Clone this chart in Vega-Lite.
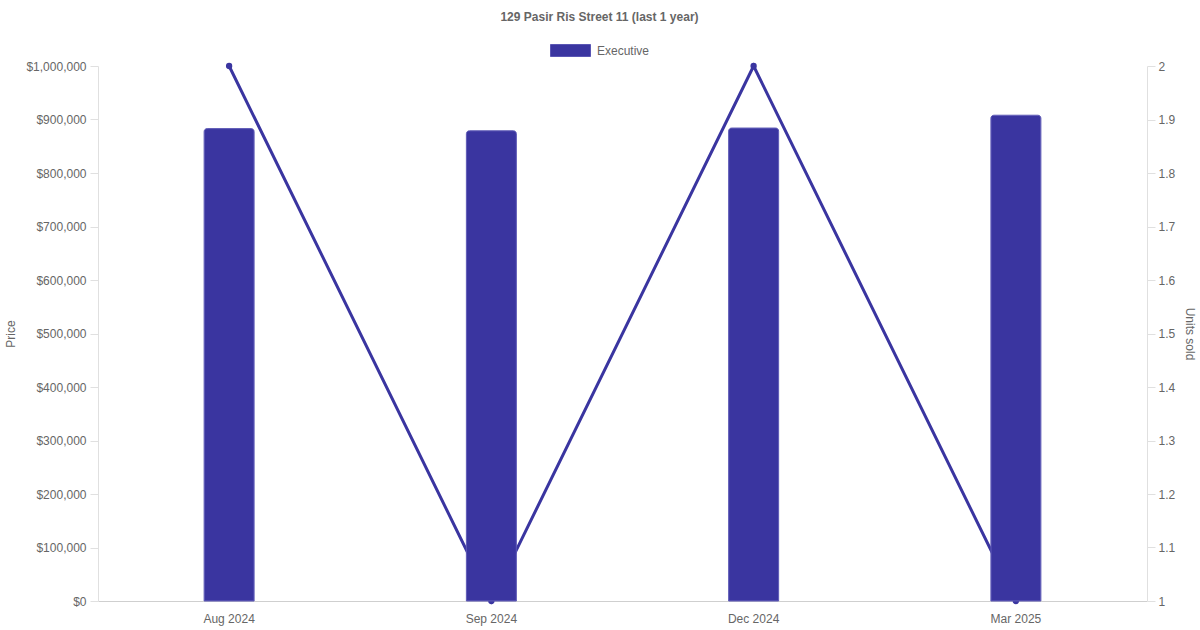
{
  "$schema": "https://vega.github.io/schema/vega-lite/v6.json",
  "width": 1049,
  "height": 535,
  "autosize": {"type": "none"},
  "padding": {"left": 98, "top": 66, "right": 53, "bottom": 29},
  "background": "white",
  "title": {
    "text": "129 Pasir Ris Street 11 (last 1 year)",
    "anchor": "middle",
    "frame": "group",
    "font": "Liberation Sans",
    "fontSize": 12,
    "fontWeight": "bold",
    "color": "#666666",
    "baseline": "middle",
    "offset": 1,
    "dx": -23
  },
  "data": {
    "values": [
      {"month": "Aug 2024", "type": "Executive", "price": 883000, "units": 2},
      {"month": "Sep 2024", "type": "Executive", "price": 879000, "units": 1},
      {"month": "Dec 2024", "type": "Executive", "price": 884000, "units": 2},
      {"month": "Mar 2025", "type": "Executive", "price": 908000, "units": 1}
    ]
  },
  "config": {
    "font": "Liberation Sans",
    "view": {"stroke": null},
    "axis": {
      "labelFont": "Liberation Sans",
      "labelFontSize": 12,
      "labelColor": "#666666",
      "titleFont": "Liberation Sans",
      "titleFontSize": 12,
      "titleFontWeight": "normal",
      "titleColor": "#666666",
      "gridColor": "#e5e5e5",
      "domainColor": "#e0e0e0",
      "tickColor": "#e0e0e0"
    }
  },
  "encoding": {
    "x": {
      "field": "month",
      "type": "ordinal",
      "sort": null,
      "scale": {"paddingInner": 0, "paddingOuter": 0},
      "axis": {
        "title": null,
        "labelAngle": 0,
        "ticks": false,
        "grid": false,
        "labelPadding": 12,
        "domainColor": "#cfcfcf"
      }
    }
  },
  "layer": [
    {
      "mark": {
        "type": "line",
        "color": "#3a35a0",
        "strokeWidth": 3,
        "point": {"filled": true, "size": 40, "color": "#3a35a0"}
      },
      "encoding": {
        "y": {
          "field": "units",
          "type": "quantitative",
          "scale": {"domain": [1, 2], "nice": false, "zero": false},
          "axis": {
            "orient": "right",
            "title": "Units sold",
            "titleAngle": 90,
            "format": "~g",
            "tickCount": 10,
            "grid": false,
            "tickSize": 8,
            "labelPadding": 3,
            "titlePadding": 8
          }
        }
      }
    },
    {
      "mark": {
        "type": "bar",
        "size": 50,
        "cornerRadiusTopLeft": 3,
        "cornerRadiusTopRight": 3,
        "stroke": "#5a56b4",
        "strokeWidth": 1
      },
      "encoding": {
        "y": {
          "field": "price",
          "type": "quantitative",
          "scale": {"domain": [0, 1000000], "nice": false},
          "axis": {
            "orient": "left",
            "title": "Price",
            "format": "$,.0f",
            "tickCount": 10,
            "tickSize": 8,
            "labelPadding": 4,
            "titlePadding": 8
          }
        },
        "color": {
          "field": "type",
          "type": "nominal",
          "scale": {"range": ["#3a35a0"]},
          "legend": {
            "title": null,
            "orient": "none",
            "legendX": 452,
            "legendY": -36,
            "padding": 0,
            "symbolType": "M-1,-0.3H1V0.3H-1Z",
            "symbolSize": 1600,
            "symbolStrokeColor": "#5a56b4",
            "symbolStrokeWidth": 1,
            "symbolOpacity": 1,
            "labelOffset": 6,
            "labelFont": "Liberation Sans",
            "labelFontSize": 12,
            "labelColor": "#666666"
          }
        }
      }
    }
  ],
  "resolve": {"scale": {"y": "independent"}}
}
